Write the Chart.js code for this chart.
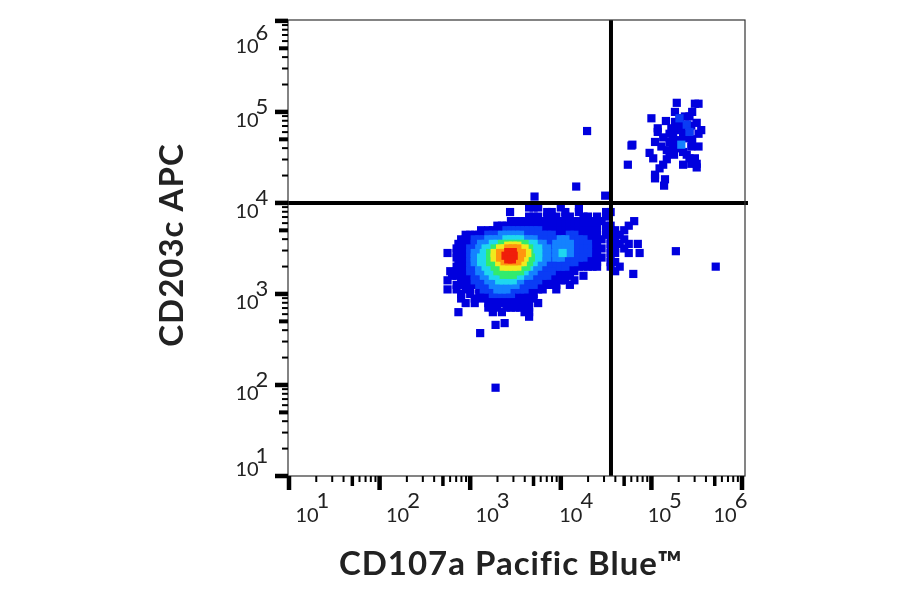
<!DOCTYPE html>
<html>
<head>
<meta charset="utf-8">
<style>
  html, body { margin: 0; padding: 0; background: #fff; }
  canvas { display: block; }
</style>
<script src="https://cdn.jsdelivr.net/npm/chart.js@4"></script>
</head>
<body>
<canvas id="flowChart" width="900" height="594"></canvas>
<script>
// all values are log10 of the fluorescence
// rows are [log y, [log x, log x, ...]]
var blueRows = [
  [3.95, [3.65, 3.7, 3.75, 4.0, 4.2]],
  [3.9, [3.44, 3.85, 3.9, 4.05, 4.2, 4.5, 4.55]],
  [3.85, [3.65, 3.7, 3.75, 3.85, 3.9, 3.95, 4.05, 4.1, 4.25, 4.3, 4.4, 4.5]],
  [3.8, [3.45, 3.5, 3.55, 3.6, 3.65, 3.7, 3.75, 3.8, 3.85, 3.9, 3.95, 4.0, 4.05, 4.1, 4.15, 4.2, 4.25, 4.3, 4.35, 4.4, 4.45, 4.81]],
  [3.75, [3.3, 3.35, 3.4, 3.45, 3.5, 3.55, 3.6, 3.65, 3.7, 3.75, 3.8, 3.85, 3.9, 3.95, 4.0, 4.05, 4.1, 4.15, 4.2, 4.25, 4.3, 4.35, 4.4, 4.5, 4.55, 4.75]],
  [3.7, [3.12, 3.2, 3.25, 3.3, 3.35, 3.8, 3.85, 3.9, 3.95, 4.0, 4.05, 4.1, 4.15, 4.2, 4.25, 4.3, 4.35, 4.4, 4.5, 4.55, 4.6, 4.7]],
  [3.65, [2.95, 3.0, 3.05, 3.1, 3.15, 3.95, 4.0, 4.05, 4.2, 4.25, 4.3, 4.35, 4.4, 4.5, 4.55, 4.6, 4.65]],
  [3.6, [2.9, 2.95, 3.0, 3.05, 4.3, 4.35, 4.4, 4.45, 4.55, 4.6, 4.7]],
  [3.55, [2.87, 2.92, 3.0, 3.05, 4.35, 4.4, 4.55, 4.6, 4.65, 4.75, 4.85]],
  [3.5, [2.85, 2.9, 2.95, 3.0, 4.35, 4.4, 4.45, 4.55, 4.6, 4.7]],
  [3.45, [2.75, 2.85, 2.9, 2.95, 3.0, 4.35, 4.4, 4.55, 4.6, 4.75, 4.87]],
  [3.4, [2.85, 2.9, 2.95, 3.0, 4.3, 4.35, 4.4, 4.45, 4.55]],
  [3.35, [2.87, 2.92, 3.0, 4.2, 4.25, 4.3, 4.35, 4.4, 4.55, 4.6]],
  [3.3, [2.85, 2.9, 2.95, 3.0, 4.1, 4.15, 4.2, 4.25, 4.3, 4.35, 4.4, 4.55, 4.65]],
  [3.25, [2.78, 2.85, 2.9, 2.95, 3.0, 3.95, 4.0, 4.05, 4.1, 4.15, 4.6]],
  [3.2, [2.8, 2.85, 2.9, 2.95, 3.0, 3.05, 3.9, 3.95, 4.0, 4.05, 4.1, 4.25]],
  [3.15, [2.75, 2.9, 2.95, 3.0, 3.05, 3.8, 3.85, 3.9, 3.95, 4.0, 4.05, 4.15]],
  [3.1, [2.85, 2.92, 3.0, 3.05, 3.1, 3.75, 3.8, 3.85, 3.9, 3.95, 4.1]],
  [3.05, [2.75, 2.85, 2.95, 3.0, 3.1, 3.15, 3.65, 3.7, 3.75, 3.8, 3.95]],
  [3.0, [2.9, 3.0, 3.1, 3.15, 3.2, 3.25, 3.3, 3.35, 3.4, 3.45, 3.5, 3.55, 3.6, 3.65, 3.7]],
  [2.95, [2.9, 3.05, 3.12, 3.2, 3.25, 3.3, 3.35, 3.4, 3.45, 3.5, 3.55, 3.6, 3.65, 3.7]],
  [2.9, [2.95, 3.05, 3.2, 3.25, 3.3, 3.35, 3.4, 3.45, 3.5, 3.55, 3.6, 3.65, 3.75]],
  [2.85, [3.2, 3.25, 3.3, 3.4, 3.45, 3.5, 3.55, 3.6, 3.65]],
  [2.8, [2.87, 3.25, 3.35, 3.6, 3.65]],
  [2.75, [3.65]]
];
var midBlueRows = [
  [3.7, [3.4, 3.45, 3.5, 3.55, 3.6, 3.65, 3.7, 3.75]],
  [3.65, [3.2, 3.25, 3.3, 3.6, 3.65, 3.7, 3.75, 3.8, 3.85, 3.9, 4.1, 4.15]],
  [3.6, [3.05, 3.1, 3.15, 3.75, 3.8, 3.85, 3.9, 3.95, 4.0, 4.05, 4.1, 4.15, 4.2, 4.25]],
  [3.55, [3.05, 3.1, 3.85, 3.9, 3.95, 4.15, 4.2, 4.25, 4.3]],
  [3.5, [3.0, 3.05, 3.1, 3.85, 3.9, 3.95, 4.15, 4.2, 4.25, 4.3]],
  [3.45, [3.0, 3.05, 3.85, 3.9, 3.95, 4.15, 4.2, 4.25, 4.3]],
  [3.4, [3.0, 3.05, 3.85, 3.9, 3.95, 4.05, 4.1, 4.15, 4.2, 4.25]],
  [3.35, [3.0, 3.05, 3.85, 3.9, 3.95, 4.0, 4.05, 4.1, 4.15]],
  [3.3, [3.0, 3.05, 3.1, 3.8, 3.85, 3.9, 3.95, 4.0, 4.05]],
  [3.25, [3.0, 3.05, 3.1, 3.75, 3.8, 3.85, 3.9]],
  [3.2, [3.05, 3.1, 3.15, 3.7, 3.75, 3.8, 3.85]],
  [3.15, [3.05, 3.1, 3.15, 3.2, 3.6, 3.65, 3.7, 3.75]],
  [3.1, [3.1, 3.15, 3.2, 3.25, 3.5, 3.55, 3.6, 3.65, 3.7]],
  [3.05, [3.15, 3.2, 3.25, 3.3, 3.35, 3.4, 3.45, 3.5, 3.55, 3.6]],
  [3.0, [3.25, 3.3, 3.35, 3.4, 3.45]]
];
var skyRows = [
  [3.65, [3.35, 3.4, 3.45, 3.5, 3.55]],
  [3.6, [3.2, 3.25, 3.3, 3.35, 3.6, 3.65, 3.7, 4.0, 4.05]],
  [3.55, [3.12, 3.17, 3.22, 3.75, 3.8, 3.95, 4.0, 4.05, 4.1]],
  [3.5, [3.1, 3.15, 3.8, 3.85, 3.95, 4.0, 4.05, 4.1]],
  [3.45, [3.05, 3.1, 3.15, 3.8, 3.85, 3.95, 4.05, 4.1]],
  [3.4, [3.05, 3.1, 3.8, 3.85, 3.95, 4.0]],
  [3.35, [3.05, 3.1, 3.75, 3.8]],
  [3.3, [3.1, 3.15, 3.7, 3.75]],
  [3.25, [3.1, 3.15, 3.2, 3.65, 3.7]],
  [3.2, [3.15, 3.2, 3.25, 3.55, 3.6, 3.65]],
  [3.15, [3.2, 3.25, 3.3, 3.35, 3.4, 3.45, 3.5, 3.55]],
  [3.1, [3.25, 3.3, 3.35, 3.4, 3.45, 3.5]],
  [3.05, [3.3, 3.35, 3.4]],
  [4.64, [5.33]]
];
var cyanRows = [
  [3.6, [3.4, 3.45, 3.5, 3.55]],
  [3.55, [3.25, 3.3, 3.65, 3.7]],
  [3.5, [3.17, 3.22, 3.7, 3.75]],
  [3.45, [3.15, 3.2, 3.7, 3.75, 4.02]],
  [3.4, [3.12, 3.17, 3.22, 3.7, 3.75]],
  [3.35, [3.12, 3.17, 3.22, 3.65, 3.7]],
  [3.3, [3.17, 3.22, 3.27, 3.6, 3.65]],
  [3.25, [3.2, 3.25, 3.3, 3.55, 3.6]],
  [3.2, [3.25, 3.3, 3.35, 3.5, 3.55]],
  [3.15, [3.32, 3.37, 3.42, 3.47]]
];
var greenRows = [
  [3.55, [3.35, 3.4, 3.45, 3.5, 3.55, 3.6]],
  [3.5, [3.27, 3.32, 3.37, 3.6, 3.65]],
  [3.45, [3.22, 3.27, 3.65]],
  [3.4, [3.22, 3.27, 3.62, 3.67]],
  [3.35, [3.22, 3.27, 3.32, 3.6, 3.65]],
  [3.3, [3.27, 3.32, 3.37, 3.52, 3.57, 3.62]],
  [3.25, [3.3, 3.35, 3.4, 3.45, 3.5, 3.55]],
  [3.21, [3.37, 3.42, 3.47]]
];
var yellowRows = [
  [3.53, [3.42, 3.47, 3.52]],
  [3.5, [3.33, 3.38, 3.55, 3.6]],
  [3.45, [3.27, 3.32, 3.6, 3.63]],
  [3.4, [3.27, 3.32, 3.55, 3.6]],
  [3.35, [3.32, 3.37, 3.55, 3.58]],
  [3.3, [3.37, 3.42, 3.47, 3.52]]
];
var orangeRows = [
  [3.5, [3.42, 3.47, 3.52]],
  [3.45, [3.33, 3.38, 3.52, 3.57]],
  [3.4, [3.33, 3.37, 3.52, 3.55]],
  [3.36, [3.38, 3.43, 3.48, 3.52]]
];
var redRows = [
  [3.46, [3.42, 3.47]],
  [3.42, [3.39, 3.44, 3.48]],
  [3.38, [3.42, 3.46]]
];

// single events outside the main population, [log x, log y]
var strayEvents = [
  [3.71, 4.07], [4.17, 4.18], [4.49, 4.08], [4.29, 4.79], [4.79, 4.64], [4.74, 4.42],
  [3.28, 1.97], [5.27, 3.47], [5.71, 3.30], [4.80, 3.22], [3.11, 2.57], [3.28, 2.66], [3.38, 2.68]
];
var upperEvents = [
  [5.28, 5.10], [5.48, 5.09], [5.52, 5.09], [5.26, 5.00], [5.45, 5.00], [5.00, 4.93], [5.16, 4.90],
  [5.31, 4.93], [5.37, 4.95], [5.42, 4.95], [5.26, 4.89], [5.22, 4.82], [5.07, 4.82], [5.07, 4.78],
  [5.50, 4.88], [5.55, 4.80], [5.52, 4.76], [5.39, 4.86], [5.31, 4.87], [5.42, 4.78], [5.28, 4.80],
  [5.35, 4.76], [5.20, 4.76], [5.04, 4.67], [4.78, 4.63], [5.20, 4.67], [5.28, 4.67], [5.39, 4.71],
  [5.52, 4.62], [5.44, 4.62], [5.11, 4.62], [5.17, 4.58], [5.24, 4.60], [5.35, 4.56], [4.98, 4.55],
  [5.02, 4.49], [5.17, 4.48], [5.42, 4.49], [5.48, 4.49], [5.13, 4.42], [5.09, 4.38], [5.35, 4.42],
  [5.50, 4.43], [5.50, 4.39], [5.04, 4.31], [5.04, 4.27], [5.15, 4.26], [5.14, 4.19], [5.44, 4.43],
  [5.39, 4.53], [5.31, 4.69], [5.24, 4.75], [5.20, 4.56], [5.33, 4.82], [5.45, 4.70], [5.30, 4.60],
  [5.44, 4.85], [5.13, 4.72], [5.25, 4.53]
];
var upperLighter = [[5.31, 4.93], [5.39, 4.86], [5.42, 4.78]];

// quadrant gates
var gateX = 35800;
var gateY = 10000;

var decades = [1, 2, 3, 4, 5, 6];
var minorSteps = [2, 3, 4, 6, 7, 8, 9];
var xLabel = 'CD107a Pacific Blue™';
var yLabel = 'CD203c APC';

var fromRows = (rows) => rows.flatMap((r) => r[1].map((x) => ({x: Math.pow(10, x), y: Math.pow(10, r[0])})));
var fromPairs = (pairs) => pairs.map((p) => ({x: Math.pow(10, p[0]), y: Math.pow(10, p[1])}));

var cellSet = (data, color) => ({
  data: data,
  showLine: false,
  pointStyle: 'rect',
  pointRadius: 5.8,
  pointHoverRadius: 5.8,
  pointBorderWidth: 0,
  pointBackgroundColor: color
});
var gateSet = (data) => ({
  data: data,
  showLine: true,
  clip: false,
  borderColor: '#000',
  borderWidth: 4,
  pointRadius: 0
});

// label offsets from the tick, the outer labels are pushed inside
var xLabelShift = {1: 18, 2: 18, 3: 17, 4: 10, 5: 8, 6: -17};
var yLabelShift = {1: -8, 2: 7, 3: 7, 4: 7, 5: 7, 6: 24};

var axesPlugin = {
  id: 'flowAxes',
  afterDraw: (chart) => {
    var ctx = chart.ctx;
    var a = chart.chartArea;
    var xs = chart.scales.x;
    var ys = chart.scales.y;
    ctx.save();
    ctx.strokeStyle = '#333';
    ctx.lineWidth = 1.2;
    ctx.strokeRect(a.left, a.top, a.right - a.left, a.bottom - a.top);
    ctx.fillStyle = '#000';

    var tickX = (value, len, w) => ctx.fillRect(xs.getPixelForValue(value) - w / 2, a.bottom, w, len);
    var tickY = (value, len, w) => ctx.fillRect(a.left - len, ys.getPixelForValue(value) - w / 2, len, w);
    decades.forEach((d) => {
      var base = Math.pow(10, d);
      tickX(base, 14, 4.5);
      tickY(base, 13, 4.5);
      if (d < 6) {
        tickX(base * 5, 10, 3.5);
        tickY(base * 5, 9, 4);
        minorSteps.forEach((m) => {
          tickX(base * m, 6, 2);
          tickY(base * m, 6, 2);
        });
      }
    });

    ctx.fillStyle = '#222';
    ctx.textAlign = 'center';
    ctx.textBaseline = 'alphabetic';
    decades.forEach((d) => {
      var px = xs.getPixelForValue(Math.pow(10, d)) + xLabelShift[d];
      var py = ys.getPixelForValue(Math.pow(10, d)) + yLabelShift[d];
      ctx.font = '20px Lato';
      ctx.fillText('10', px, 522);
      ctx.fillText('10', 247, py + 8);
      ctx.font = '22px Lato';
      ctx.fillText(String(d), px + 16, 508);
      ctx.fillText(String(d), 262, py - 5);
    });

    ctx.font = 'bold 33px Lato';
    ctx.letterSpacing = '1px';
    ctx.fillText(xLabel, 511, 575);
    ctx.translate(183, 245);
    ctx.rotate(-Math.PI / 2);
    ctx.fillText(yLabel, 0, 0);
    ctx.restore();
  }
};

// first dataset ends up on top
var flowChart = new Chart(document.getElementById('flowChart').getContext('2d'), {
  type: 'scatter',
  data: {
    datasets: [
      gateSet([{x: gateX, y: 10}, {x: gateX, y: 1023000}]),
      gateSet([{x: 9.75, y: gateY}, {x: 1164000, y: gateY}]),
      cellSet(fromRows(redRows), 'rgb(240,30,10)'),
      cellSet(fromRows(orangeRows), 'rgb(255,150,15)'),
      cellSet(fromRows(yellowRows), 'rgb(240,235,30)'),
      cellSet(fromRows(greenRows), 'rgb(50,235,110)'),
      cellSet(fromRows(cyanRows), 'rgb(30,215,240)'),
      cellSet(fromRows(skyRows), 'rgb(20,130,255)'),
      cellSet(fromRows(midBlueRows).concat(fromPairs(upperLighter)), 'rgb(10,60,245)'),
      cellSet(fromRows(blueRows).concat(fromPairs(strayEvents), fromPairs(upperEvents)), 'rgb(0,0,222)')
    ]
  },
  options: {
    responsive: false,
    animation: false,
    devicePixelRatio: 1,
    layout: {padding: {left: 288, right: 155, top: 20, bottom: 118}},
    plugins: {legend: {display: false}, tooltip: {enabled: false}},
    scales: {
      x: {type: 'logarithmic', display: false, min: 9.75, max: 1079000},
      y: {type: 'logarithmic', display: false, min: 10, max: 1023000}
    }
  },
  plugins: [axesPlugin]
});
</script>
</body>
</html>
